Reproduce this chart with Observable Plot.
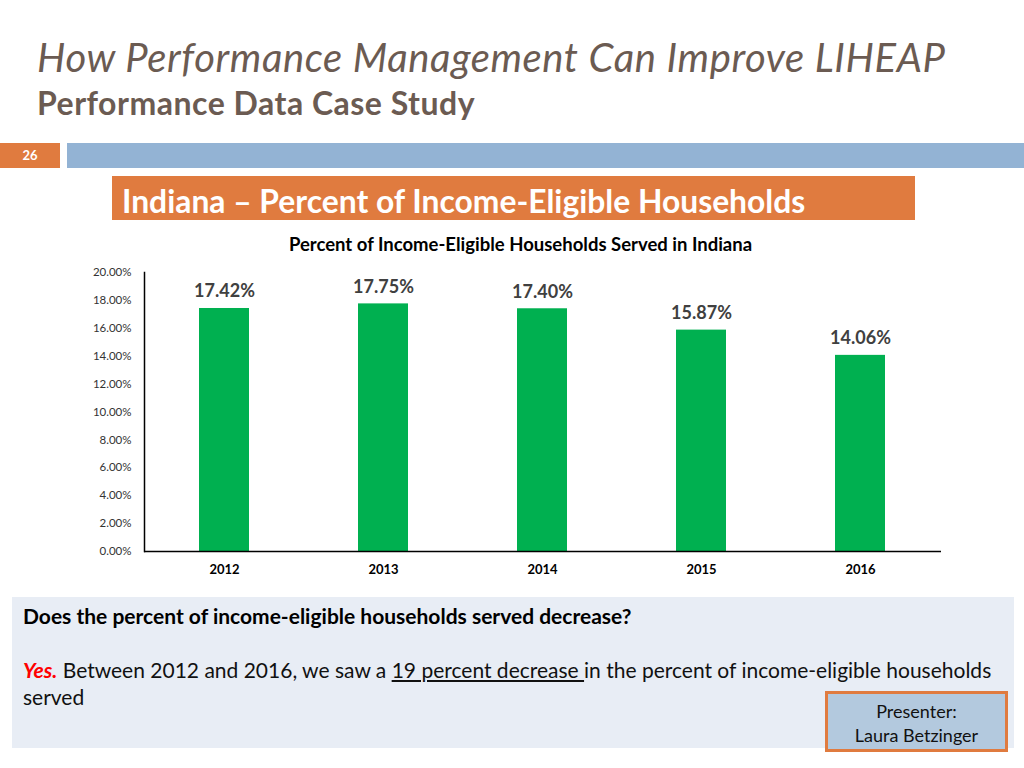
<!DOCTYPE html>
<html>
<head>
<meta charset="utf-8">
<script src="https://cdn.jsdelivr.net/npm/d3@7"></script>
<script src="https://cdn.jsdelivr.net/npm/@observablehq/plot@0.6"></script>
<style>
  body { margin:0; width:1024px; height:768px; background:#fff; position:relative; overflow:hidden; font-family: Lato, "Open Sans", sans-serif; }
  .abs { position:absolute; }
  #title { left:37px; top:37px; font-size:40px; line-height:41px; letter-spacing:0.6px; font-style:italic; color:#6b5b52; white-space:nowrap; }
  #subtitle { left:37px; top:86px; font-size:32px; line-height:33px; letter-spacing:0.5px; font-weight:bold; color:#6b5b52; white-space:nowrap; }
  #num { left:0; top:143px; width:60px; height:25px; background:#e07b3f; color:#fff; font-size:13px; font-weight:bold; text-align:center; line-height:25px; }
  #bar { left:67px; top:143px; width:957px; height:25px; background:#93b3d4; }
  #banner { left:112px; top:176px; width:803px; height:44px; background:#e07b3f; color:#fff; font-size:31.8px; font-weight:bold; line-height:50px; padding-left:10px; box-sizing:border-box; white-space:nowrap; overflow:hidden; }
  #ctitle { left:0; width:1041px; top:233px; text-align:center; font-size:18.5px; font-weight:bold; color:#000; }
  #chart { left:0; top:230px; }
  #box { left:12px; top:597px; width:1002px; height:151px; background:#e8edf5; }
  #q { left:23px; top:603px; font-size:21px; font-weight:bold; color:#000; white-space:nowrap; }
  .ans { left:23px; font-size:21px; color:#111; line-height:27px; white-space:nowrap; }
  #ans1 { top:656px; }
  #ans2 { top:683px; }
  .yes { color:#ff0000; font-weight:bold; font-style:italic; }
  .ul { text-decoration: underline; }
  #pres { left:825px; top:691px; width:183px; height:61px; background:#b3c9de; border:3px solid #e07b3f; box-sizing:border-box; text-align:center; font-size:18px; line-height:24px; color:#111; padding-top:5px; }
  #pres div { white-space:nowrap; }
</style>
</head>
<body>
<div id="title" class="abs">How Performance Management Can Improve LIHEAP</div>
<div id="subtitle" class="abs">Performance Data Case Study</div>
<div id="num" class="abs">26</div>
<div id="bar" class="abs"></div>
<div id="banner" class="abs">Indiana – Percent of Income-Eligible Households</div>
<div id="chart" class="abs"></div>
<div id="ctitle" class="abs">Percent of Income-Eligible Households Served in Indiana</div>
<div id="box" class="abs"></div>
<div id="q" class="abs">Does the percent of income-eligible households served decrease?</div>
<div id="ans1" class="abs ans"><span class="yes">Yes.</span><span> Between 2012 and 2016, we saw a </span><span class="ul">19 percent decrease </span><span>in the percent of income-eligible households</span></div>
<div id="ans2" class="abs ans"><span>served</span></div>
<div id="pres" class="abs"><div>Presenter:</div><div>Laura Betzinger</div></div>
<script>
const years = ["2012", "2013", "2014", "2015", "2016"];
const percents = [17.42, 17.75, 17.40, 15.87, 14.06];
const yTicks = [0, 2, 4, 6, 8, 10, 12, 14, 16, 18, 20];

const data = years.map((y, i) => ({year: y, value: percents[i]}));

const chart = Plot.plot({
  width: 960,
  height: 360,
  marginLeft: 144,
  marginRight: 19,
  marginTop: 42,
  marginBottom: 39,
  style: {fontFamily: "Lato, 'Open Sans', sans-serif", background: "transparent"},
  x: {domain: years, paddingInner: 0.685, paddingOuter: 0.3425, label: null},
  y: {domain: [0, 20], label: null},
  marks: [
    Plot.barY(data, {x: "year", y: "value", fill: "#00b050"}),
    Plot.text(data, {x: "year", y: "value", text: d => d.value.toFixed(2) + "%", dy: -17, fontSize: 18, fontWeight: "bold", fill: "#404040"}),
    Plot.axisY({ticks: yTicks, tickSize: 0, tickPadding: 13, tickFormat: d => d.toFixed(2) + "%", fontSize: 11.5, fill: "#333"}),
    Plot.axisX({tickSize: 0, tickPadding: 13, fontSize: 13, fontWeight: "bold", fill: "#000"}),
    Plot.ruleY([0], {stroke: "#000", strokeWidth: 1.5}),
    Plot.frame({anchor: "left", stroke: "#000", strokeWidth: 1.5})
  ]
});
document.getElementById("chart").appendChild(chart);
</script>
</body>
</html>
